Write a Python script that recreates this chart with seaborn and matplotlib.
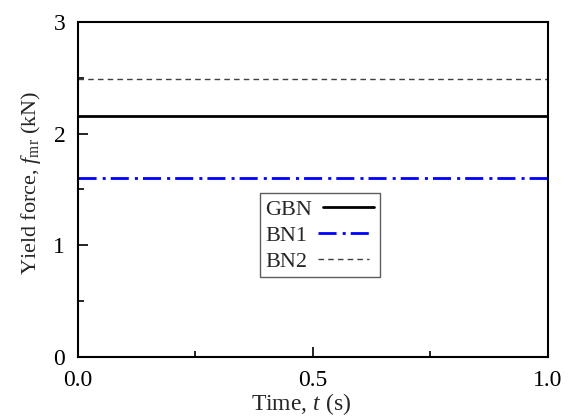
import numpy as np
import pandas as pd
import matplotlib
matplotlib.use("Agg")
import matplotlib.pyplot as plt
import seaborn as sns
from matplotlib.ticker import MultipleLocator, FormatStrFormatter

# Constant yield force of each bearing over time
time = [0.0, 1.0]
series = ["GBN", "BN1", "BN2"]
gbn = [2.16, 2.16]
bn1 = [1.60, 1.60]
bn2 = [2.49, 2.49]

df = pd.DataFrame({
    "t": time * 3,
    "f": gbn + bn1 + bn2,
    "name": [series[0]] * 2 + [series[1]] * 2 + [series[2]] * 2,
})

sns.set_style("ticks")
plt.rcParams["font.family"] = "serif"
plt.rcParams["font.serif"] = ["Liberation Serif", "DejaVu Serif"]
plt.rcParams["mathtext.fontset"] = "custom"
plt.rcParams["mathtext.it"] = "Liberation Serif:italic"
plt.rcParams["mathtext.rm"] = "Liberation Serif"

FS = 17

fig = plt.figure(figsize=(5.76, 4.2), dpi=100)
ax = fig.add_axes([0.135, 0.15, 0.816, 0.798])

palette = {"GBN": "black", "BN1": "#0000ff", "BN2": "#404040"}
sns.lineplot(data=df, x="t", y="f", hue="name", palette=palette,
             hue_order=series, ax=ax, legend=False)

lines = ax.get_lines()
lines[0].set_linewidth(2.0)
lines[1].set_linewidth(2.0)
lines[1].set_dashes([6.5, 2.2, 1.1, 1.8])
lines[2].set_linewidth(1.0)
lines[2].set_dashes([4, 3])
for ln, name in zip(lines, series):
    ln.set_label(name)

ax.set_xlim(0, 1)
ax.set_ylim(0, 3)
ax.xaxis.set_major_locator(MultipleLocator(0.5))
ax.xaxis.set_minor_locator(MultipleLocator(0.25))
ax.yaxis.set_major_locator(MultipleLocator(1))
ax.yaxis.set_minor_locator(MultipleLocator(0.5))
ax.xaxis.set_major_formatter(FormatStrFormatter("%.1f"))
ax.tick_params(which="both", direction="in", top=False, right=False,
               labelsize=FS, width=1.2, colors="black")
ax.tick_params(which="major", length=7)
ax.tick_params(which="minor", length=4)
ax.tick_params(axis="x", which="major", pad=9)
ax.tick_params(axis="y", which="major", pad=9)
for sp in ax.spines.values():
    sp.set_linewidth(1.5)
    sp.set_color("black")

ax.set_xlabel("Time, $t$ (s)", fontsize=FS)
ax.set_ylabel("Yield force, $f_{\\mathrm{mr}}$ (kN)", fontsize=16)
ax.xaxis.label.set_va("center")
ax.yaxis.label.set_va("center")
ax.xaxis.set_label_coords(0.474, -0.14)
ax.yaxis.set_label_coords(-0.1, 0.52)

leg = ax.legend(loc="center", bbox_to_anchor=(0.515, 0.363), fontsize=16,
                markerfirst=False, frameon=True, fancybox=False,
                handlelength=2.3, handletextpad=0.5, borderpad=0.25,
                labelspacing=0.25, borderaxespad=0)
for col in leg._legend_handle_box.get_children():
    col.align = "left"
leg.get_frame().set_edgecolor("#333333")
leg.get_frame().set_linewidth(1.0)

fig.savefig("out.png", dpi=100)
